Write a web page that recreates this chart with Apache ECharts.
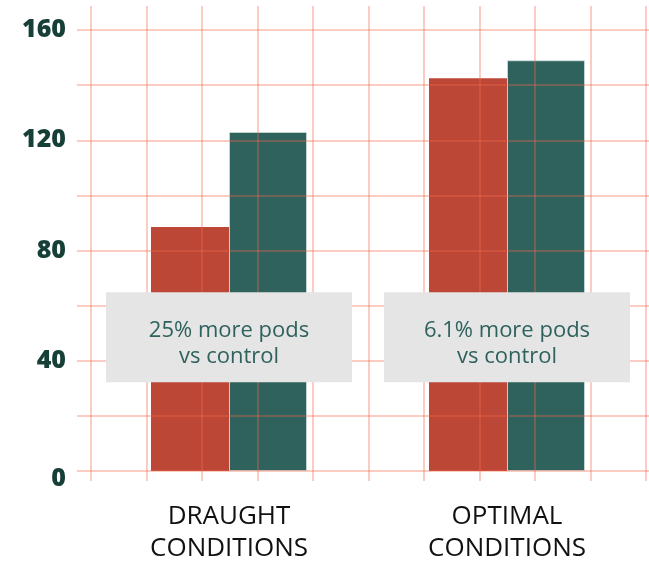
<!DOCTYPE html>
<html>
<head>
<meta charset="utf-8">
<script src="https://cdn.jsdelivr.net/npm/echarts@6/dist/echarts.min.js"></script>
<style>
  html, body { margin: 0; padding: 0; background: #ffffff; }
  #chart { width: 649px; height: 561px; }
</style>
</head>
<body>
<div id="chart"></div>
<script>
// Pod counts under two growing conditions
const categories = ['DRAUGHT\nCONDITIONS', 'OPTIMAL\nCONDITIONS'];
const controlPods = [88.5, 142.5];
const treatedPods = [123, 149];
const notes = ['25% more pods\nvs control', '6.1% more pods\nvs control'];
const yTicks = [0, 40, 80, 120, 160];

const RED = '#bd4737';
const TEAL = '#2f625d';
const GRIDLINE = 'rgba(245,105,75,0.45)';
const FONT = '"Open Sans", "Noto Sans", sans-serif';

const chart = echarts.init(document.getElementById('chart'), null, { renderer: 'canvas' });

chart.setOption({
  animation: false,
  backgroundColor: '#ffffff',
  grid: [
    { left: 90, right: 3, top: 30, bottom: 90, containLabel: false, outerBoundsMode: 'none' },   // bars
    { left: 77, right: 0, top: 30, bottom: 90, containLabel: false, outerBoundsMode: 'none' },   // horizontal rules
    { left: 91, right: 3, top: 6, bottom: 80, containLabel: false, outerBoundsMode: 'none' }     // vertical rules
  ],
  xAxis: [
    {
      type: 'category', gridIndex: 0, data: categories,
      axisLine: { show: false }, axisTick: { show: false },
      axisLabel: {
        margin: 30, color: '#111111', fontFamily: FONT, fontSize: 26,
        lineHeight: 32, align: 'center'
      }
    },
    { type: 'value', gridIndex: 1, show: false, min: 0, max: 1 },
    {
      type: 'value', gridIndex: 2, min: 0, max: 10, interval: 1, z: 3,
      axisLine: { show: false }, axisTick: { show: false }, axisLabel: { show: false },
      splitLine: { show: true, lineStyle: { color: GRIDLINE, width: 1.5 } }
    }
  ],
  yAxis: [
    {
      type: 'value', gridIndex: 0, min: yTicks[0], max: yTicks[yTicks.length - 1], interval: 40,
      axisLine: { show: false }, axisTick: { show: false }, splitLine: { show: false },
      axisLabel: {
        margin: 24, color: '#163f37', fontFamily: FONT, fontWeight: 800, fontSize: 25,
        formatter: v => (v === 0 ? '{s|}\n{z|0}' : String(v)),
        rich: {
          s: { fontSize: 10, lineHeight: 16 },
          z: { fontFamily: FONT, fontWeight: 800, fontSize: 25, lineHeight: 25, color: '#163f37' }
        }
      }
    },
    {
      type: 'value', gridIndex: 1, min: 0, max: 160, interval: 20, z: 3,
      axisLine: { show: false }, axisTick: { show: false }, axisLabel: { show: false },
      splitLine: { show: true, lineStyle: { color: GRIDLINE, width: 1.5 } }
    },
    { type: 'value', gridIndex: 2, show: false, min: 0, max: 1 }
  ],
  series: [
    {
      name: 'Control', type: 'bar', xAxisIndex: 0, yAxisIndex: 0,
      data: controlPods, barWidth: 78, barGap: '0%',
      itemStyle: { color: RED }
    },
    {
      name: 'Treated', type: 'bar', xAxisIndex: 0, yAxisIndex: 0,
      data: treatedPods, barWidth: 78, barGap: '0%',
      itemStyle: { color: TEAL, borderColor: 'rgba(220,235,232,0.6)', borderWidth: 1 }
    },
    {
      name: 'Notes', type: 'scatter', xAxisIndex: 0, yAxisIndex: 0, z: 10,
      symbol: 'rect', symbolSize: [246, 90],
      data: notes.map((t, i) => ({ value: [i, 48.5], name: t })),
      itemStyle: { color: '#e5e5e5', opacity: 1 },
      label: {
        show: true, position: 'inside', offset: [0, 6],
        formatter: p => p.name,
        color: '#2f625d', fontFamily: FONT, fontSize: 22, lineHeight: 26, align: 'center'
      },
      emphasis: { disabled: true }
    }
  ]
});
</script>
</body>
</html>
